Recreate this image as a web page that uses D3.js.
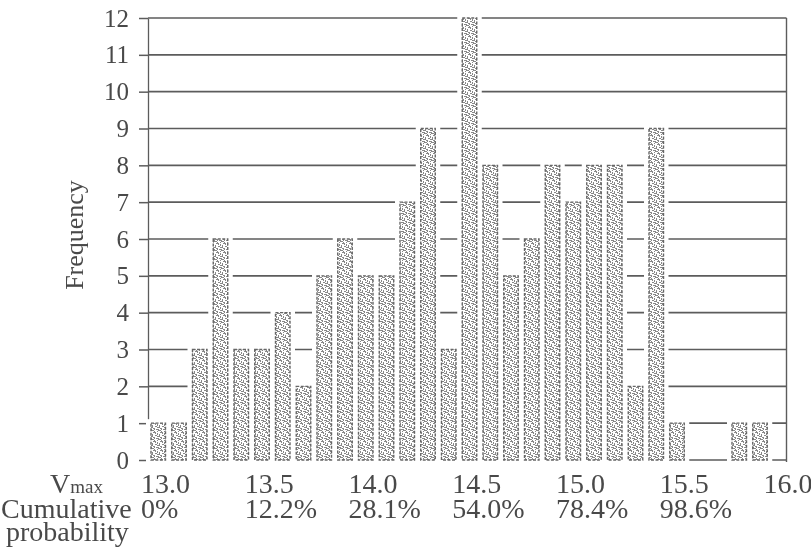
<!DOCTYPE html>
<html>
<head>
<meta charset="utf-8">
<script src="https://cdn.jsdelivr.net/npm/d3@7"></script>
<style>
  html, body { margin: 0; padding: 0; background: #ffffff; }
  svg { display: block; }
  text { font-family: "Liberation Serif", "Times New Roman", serif; fill: #4a4a4a; }
</style>
</head>
<body>
<svg id="chart" width="811" height="549"></svg>
<script>
// Vmax value of each bar (bin of width 0.1) and how many observations fell in it
const vmaxValues = [13.0, 13.1, 13.2, 13.3, 13.4, 13.5, 13.6, 13.7, 13.8, 13.9,
                    14.0, 14.1, 14.2, 14.3, 14.4, 14.5, 14.6, 14.7, 14.8, 14.9,
                    15.0, 15.1, 15.2, 15.3, 15.4, 15.5, 15.6, 15.7, 15.8, 15.9];
const frequencies = [1, 1, 3, 6, 3, 3, 4, 2, 5, 6,
                     5, 5, 7, 9, 3, 12, 8, 5, 6, 8,
                     7, 8, 8, 2, 9, 1, 0, 0, 1, 1];

// Axis labelling
const vmaxTicks = [13.0, 13.5, 14.0, 14.5, 15.0, 15.5, 16.0];
const cumulativeLabels = ["0%", "12.2%", "28.1%", "54.0%", "78.4%", "98.6%"];
const frequencyTicks = [0, 1, 2, 3, 4, 5, 6, 7, 8, 9, 10, 11, 12];

const bars = vmaxValues.map((v, i) => ({ v, n: frequencies[i] }));

const svg = d3.select("#chart");
const ink = "#5c5c5c";

const x = d3.scaleLinear().domain([13.0, 16.0]).range([148, 770.5]);
const y = d3.scaleLinear().domain([0, 12]).range([460, 18]);
const step = x(13.1) - x(13.0);
const barInset = 3;
const barWidth = step - 6.25;
const frameRight = x(16.0) + 16;

// speckled fill used inside the bars
const defs = svg.append("defs");
const pat = defs.append("pattern")
  .attr("id", "stipple")
  .attr("patternUnits", "userSpaceOnUse")
  .attr("width", 7).attr("height", 9);
pat.append("rect").attr("width", 7).attr("height", 9).attr("fill", "#ffffff");
const specks = [[0,0,2,1],[3,1,1,2],[1,3,2,1],[5,2,1,2],[4,4,2,1],[0,5,1,2],
                [2,6,2,1],[5,7,2,1],[3,8,1,1],[6,5,1,1],[1,1,1,1],[3,4,1,1],
                [6,0,1,1],[4,6,1,2],[0,8,1,1]];
pat.selectAll("rect.s").data(specks).enter().append("rect")
  .attr("class", "s")
  .attr("x", d => d[0]).attr("y", d => d[1])
  .attr("width", d => d[2]).attr("height", d => d[3])
  .attr("fill", "#888888");

const soft = defs.append("filter").attr("id", "soft");
soft.append("feGaussianBlur").attr("stdDeviation", 0.4);

const g = svg.append("g").attr("filter", "url(#soft)");

// horizontal rules at each frequency level
g.append("g").selectAll("line").data(frequencyTicks).enter().append("line")
  .attr("x1", x(13.0)).attr("x2", frameRight)
  .attr("y1", d => y(d)).attr("y2", d => y(d))
  .attr("stroke", ink).attr("stroke-width", 1.6);

// right edge of the frame
g.append("line")
  .attr("x1", frameRight).attr("x2", frameRight)
  .attr("y1", y(12)).attr("y2", y(0) + 2)
  .attr("stroke", ink).attr("stroke-width", 1.4);

// frequency axis
const yAxis = d3.axisLeft(y)
  .tickValues(frequencyTicks)
  .tickSize(9)
  .tickSizeOuter(0)
  .tickPadding(10)
  .tickFormat(d3.format("d"));
const ya = g.append("g").attr("transform", `translate(${x(13.0)},0)`).call(yAxis);
ya.select(".domain").attr("stroke", ink).attr("stroke-width", 1.3);
ya.selectAll(".tick line").attr("stroke", ink).attr("stroke-width", 1.5);
ya.selectAll(".tick text")
  .attr("font-size", 25)
  .attr("font-family", "Liberation Serif, serif")
  .attr("fill", "#4a4a4a");

// white clearance around each bar so the rules stop short of it
const drawn = bars.filter(d => d.n > 0);
g.append("g").selectAll("rect").data(drawn).enter().append("rect")
  .attr("x", d => x(d.v) + barInset - 5)
  .attr("width", barWidth + 10)
  .attr("y", d => y(d.n) - 4)
  .attr("height", d => y(0) - y(d.n) + 6)
  .attr("fill", "#ffffff");

// bars
g.append("g").selectAll("rect").data(drawn).enter().append("rect")
  .attr("x", d => x(d.v) + barInset)
  .attr("width", barWidth)
  .attr("y", d => y(d.n))
  .attr("height", d => y(0) - y(d.n))
  .attr("fill", "url(#stipple)")
  .attr("stroke", "#666666")
  .attr("stroke-width", 1.4)
  .attr("stroke-dasharray", "3,1.5");

// y-axis title
g.append("text")
  .attr("transform", "translate(83,235) rotate(-90)")
  .attr("text-anchor", "middle")
  .attr("font-size", 26)
  .text("Frequency");

// Vmax row
const rowV = 493, rowC = 518, rowP = 541;
const vLabel = g.append("text").attr("x", 50).attr("y", rowV);
vLabel.append("tspan").attr("font-size", 28).text("V");
vLabel.append("tspan").attr("font-size", 19).text("max");

g.append("g").selectAll("text").data(vmaxTicks).enter().append("text")
  .attr("x", d => x(d) - 7)
  .attr("y", rowV)
  .attr("font-size", 28)
  .text(d => d.toFixed(1));

// cumulative probability row
g.append("text").attr("x", 1).attr("y", rowC).attr("font-size", 28).text("Cumulative");
g.append("text").attr("x", 6).attr("y", rowP).attr("font-size", 28).text("probability");

g.append("g").selectAll("text").data(cumulativeLabels).enter().append("text")
  .attr("x", (d, i) => x(vmaxTicks[i]) - 7)
  .attr("y", rowC)
  .attr("font-size", 28)
  .text(d => d);
</script>
</body>
</html>
